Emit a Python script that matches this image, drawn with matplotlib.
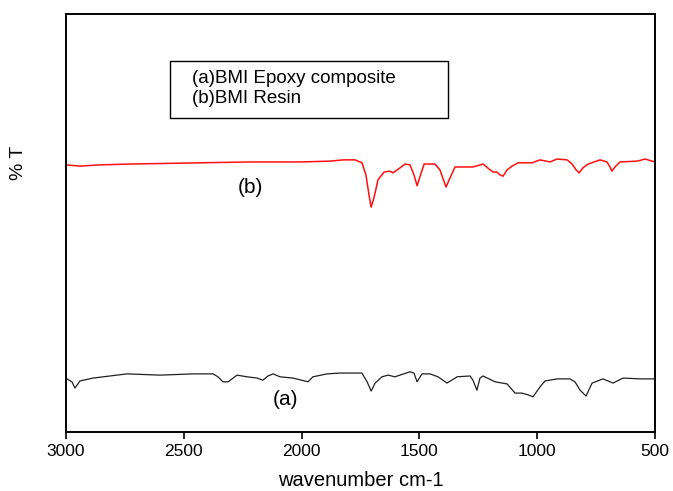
import matplotlib
matplotlib.use("Agg")
import matplotlib.pyplot as plt
from matplotlib.patches import Rectangle

plt.rcParams['font.family'] = ['Liberation Sans', 'DejaVu Sans']

# (b) BMI resin: wavenumber / %T (arbitrary scale 0-100)
wn_b = [3000, 2941, 2856, 2728, 2431, 2219, 2007, 1879, 1824, 1773, 1744,
        1727, 1714, 1705, 1693, 1676, 1650, 1625, 1612, 1582, 1561, 1540,
        1523, 1510, 1497, 1480, 1434, 1413, 1387, 1370, 1349, 1272, 1230,
        1200, 1188, 1171, 1158, 1145, 1128, 1107, 1081, 1022, 988, 946,
        916, 873, 852, 835, 822, 806, 784, 733, 704, 691, 683, 670, 649,
        576, 542, 500]
t_b = [63.9, 63.6, 63.9, 64.1, 64.4, 64.6, 64.6, 64.8, 65.1, 65.1, 64.4,
       61.5, 56.7, 53.8, 56.0, 60.3, 62.2, 62.4, 62.0, 63.2, 64.1, 63.9,
       61.5, 58.9, 61.2, 64.1, 64.1, 62.7, 58.6, 60.8, 63.4, 63.4, 64.1,
       62.7, 62.2, 62.2, 61.5, 61.2, 62.7, 63.6, 64.4, 64.4, 65.1, 64.6,
       65.3, 65.1, 64.1, 62.7, 62.0, 63.2, 64.1, 65.1, 64.6, 63.4, 62.4,
       63.4, 64.6, 64.8, 65.3, 64.6]

# (a) BMI epoxy composite
wn_a = [2996, 2975, 2962, 2941, 2885, 2741, 2601, 2461, 2376, 2355, 2334,
        2312, 2274, 2232, 2189, 2164, 2143, 2121, 2092, 2037, 1986, 1973,
        1952, 1892, 1837, 1744, 1722, 1705, 1688, 1659, 1633, 1604, 1540,
        1523, 1510, 1489, 1455, 1421, 1383, 1340, 1285, 1273, 1256, 1243,
        1230, 1179, 1128, 1094, 1065, 1039, 1018, 988, 967, 916, 861, 840,
        818, 793, 767, 721, 678, 636, 564, 500]
t_a = [12.7, 12.0, 10.5, 12.2, 12.9, 13.9, 13.6, 13.9, 13.9, 13.2, 12.0,
       12.0, 13.6, 13.2, 12.9, 12.4, 13.4, 13.9, 13.2, 12.9, 12.2, 12.0,
       13.2, 13.9, 14.1, 14.1, 12.0, 9.8, 11.7, 13.2, 13.6, 13.2, 14.4,
       14.1, 12.0, 13.9, 13.9, 13.2, 11.7, 13.2, 13.4, 12.4, 10.0, 12.9,
       13.4, 12.0, 11.5, 9.3, 9.3, 8.9, 8.4, 10.8, 12.2, 12.7, 12.7, 12.0,
       10.0, 8.6, 11.7, 12.7, 11.7, 12.9, 12.7, 12.7]

legend_lines = ['(a)BMI Epoxy composite', '(b)BMI Resin']
xticks = [3000, 2500, 2000, 1500, 1000, 500]

fig = plt.figure(figsize=(6.73, 4.91), dpi=100)
ax = fig.add_axes([0.0981, 0.1202, 0.8752, 0.8513])

ax.plot(wn_b, t_b, color='#ff1010', lw=1.1)
ax.plot(wn_a, t_a, color='#202020', lw=0.9)

ax.set_xlim(3000, 500)
ax.set_ylim(0, 100)
ax.set_xticks(xticks)
ax.set_yticks([])
ax.tick_params(axis='x', direction='out', length=5, width=1.2, labelsize=12.5, pad=4)
for s in ax.spines.values():
    s.set_linewidth(1.4)

ax.set_xlabel('wavenumber cm-1', fontsize=14.5, labelpad=8)
ax.set_ylabel('% T', fontsize=14)
ax.yaxis.set_label_coords(-0.066, 0.644)

ax.text(2219, 58.6, '(b)', fontsize=15, ha='center', va='center')
ax.text(2070, 7.7, '(a)', fontsize=15, ha='center', va='center')

# legend box drawn as plain text in a frame
ax.add_patch(Rectangle((0.1766, 0.7512), 0.472, 0.1364, transform=ax.transAxes,
                       fill=False, edgecolor='black', lw=1.0))
ax.text(0.214, 0.8457, legend_lines[0], transform=ax.transAxes, fontsize=13.5,
        va='center', ha='left')
ax.text(0.214, 0.7990, legend_lines[1], transform=ax.transAxes, fontsize=13.5,
        va='center', ha='left')

fig.savefig('out.png', dpi=100)
